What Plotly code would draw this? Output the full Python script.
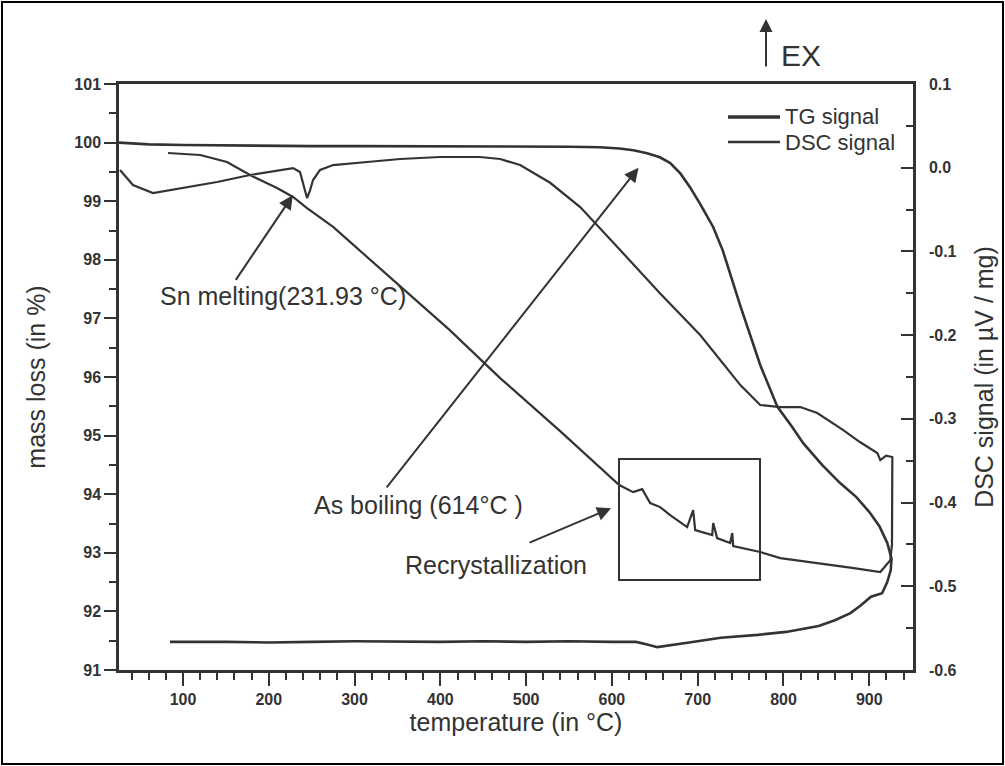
import plotly.graph_objects as go

# ---------------- data ----------------
# TG signal, heating branch (temperature in °C, mass in %)
tg_heat_T = [25.4, 60, 100, 150, 200, 250, 300, 350, 400, 450, 500, 550, 586, 609, 625, 641,
             656, 668, 680, 691, 703, 718, 729, 750, 773, 793, 810, 823, 845, 866, 885, 901,
             912, 921, 926]
tg_heat_m = [100.0, 99.97, 99.96, 99.95, 99.95, 99.94, 99.94, 99.94, 99.93, 99.93, 99.93, 99.93,
             99.92, 99.9, 99.87, 99.82, 99.75, 99.65, 99.47, 99.24, 98.95, 98.56, 98.17, 97.2,
             96.2, 95.49, 95.15, 94.87, 94.5, 94.19, 93.95, 93.68, 93.45, 93.17, 92.9]
# TG signal, cooling branch
tg_cool_T = [925, 921, 915, 902, 890, 878, 860, 841, 820, 803, 770, 727, 690, 665, 653, 640,
             628, 600, 550, 500, 450, 400, 350, 300, 250, 200, 150, 100, 84.8]
tg_cool_m = [92.7, 92.5, 92.31, 92.25, 92.1, 91.97, 91.85, 91.75, 91.69, 91.65, 91.6, 91.55,
             91.47, 91.41, 91.39, 91.44, 91.48, 91.48, 91.49, 91.48, 91.49, 91.48, 91.49, 91.49,
             91.48, 91.47, 91.48, 91.48, 91.48]

# DSC signal, heating branch (µV/mg)
dsc_heat_T = [26.5, 41.7, 65.0, 100, 139.7, 178.1, 228.3, 236.4, 242.3, 244.6, 248.1, 251.6,
              259.8, 275, 314.6, 353.1, 399.7, 446, 469.7, 493, 528, 563, 609.6, 656, 702.9,
              750, 772.9, 796, 819.6, 839.4, 869.7, 889.5, 909.4, 912.9, 916, 919.6, 926.9]
dsc_heat_v = [-0.0027, -0.0207, -0.0302, -0.0243, -0.0171, -0.0087, -0.0004, -0.0051, -0.027,
              -0.0362, -0.027, -0.0147, -0.0027, 0.0032, 0.0068, 0.0104, 0.0128, 0.0128, 0.0104,
              0.0032, -0.018, -0.047, -0.0983, -0.150, -0.1999, -0.26, -0.2835, -0.2859, -0.2859,
              -0.2931, -0.3134, -0.328, -0.3409, -0.3492, -0.347, -0.344, -0.3456]
# DSC signal, cooling branch
dsc_cool_T = [926.9, 926.5, 924.5, 912.9, 880, 850, 820, 796.3, 772.9, 741.4, 740.3, 737.9,
              722.7, 718.1, 716.9, 697.1, 694.7, 687.7, 667.9, 656.2, 644.6, 635.3, 624.8,
              608.5, 540, 469.7, 411, 341.4, 275, 244.6, 228.3, 209.6, 178.1, 151.3, 120.1, 82.5]
dsc_cool_v = [-0.3456, -0.45, -0.469, -0.483, -0.478, -0.474, -0.47, -0.4663, -0.4591, -0.452,
              -0.4364, -0.4484, -0.4424, -0.4245, -0.4388, -0.4329, -0.409, -0.4293, -0.4149,
              -0.4054, -0.4006, -0.3839, -0.3875, -0.3791, -0.315, -0.2513, -0.194, -0.1306,
              -0.0708, -0.0482, -0.035, -0.0243, -0.0087, 0.0068, 0.0152, 0.0176]

x_ticks = [100, 200, 300, 400, 500, 600, 700, 800, 900]
left_ticks = [91, 92, 93, 94, 95, 96, 97, 98, 99, 100, 101]
right_ticks = [-0.6, -0.5, -0.4, -0.3, -0.2, -0.1, 0.0, 0.1]
right_tick_text = ["-0.6", "-0.5", "-0.4", "-0.3", "-0.2", "-0.1", "0.0", "0.1"]

# ---------------- layout helpers ----------------
W, H = 1005, 766
L, R, T, B = 119, 913, 84, 670          # plot area in pixels


def px(x):
    return (x - L) / (R - L)


def py(y):
    return (B - y) / (B - T)


INK = "#333333"
FONT = "Liberation Sans, Arial, sans-serif"

fig = go.Figure()

tg_T = tg_heat_T + tg_cool_T
tg_m = tg_heat_m + tg_cool_m
dsc_T = dsc_heat_T + dsc_cool_T
dsc_v = dsc_heat_v + dsc_cool_v

fig.add_trace(go.Scatter(x=tg_T, y=tg_m, mode="lines", name="TG signal",
                         line=dict(color=INK, width=2.6), yaxis="y", showlegend=False))
fig.add_trace(go.Scatter(x=dsc_T, y=dsc_v, mode="lines", name="DSC signal",
                         line=dict(color=INK, width=2.2), yaxis="y2", showlegend=False))

axis_common = dict(showgrid=False, zeroline=False, linecolor=INK, linewidth=2.5,
                   tickcolor=INK, tickwidth=2, automargin=False,
                   tickfont=dict(family=FONT, size=16, color=INK, weight="bold"))
TITLE_FONT = dict(family=FONT, size=25, color=INK)

fig.update_layout(
    width=W, height=H,
    margin=dict(l=L, r=W - R, t=T, b=H - B, pad=0),
    paper_bgcolor="white", plot_bgcolor="white",
    font=dict(family=FONT, color=INK),
    xaxis=dict(range=[25.4, 951], tickvals=x_ticks, ticks="outside", ticklen=13,
               minor=dict(ticks="outside", ticklen=7, dtick=20, tick0=0, tickcolor=INK, tickwidth=2),
               mirror=True, showline=True,
               title=dict(text="temperature (in °C)", font=TITLE_FONT, standoff=6),
               **axis_common),
    yaxis=dict(range=[91, 101], tickvals=left_ticks, ticks="outside", ticklen=12,
               minor=dict(ticks="outside", ticklen=7, dtick=0.5, tick0=91, tickcolor=INK, tickwidth=2),
               showline=True,
               title=dict(text="mass loss (in %)", font=TITLE_FONT, standoff=22),
               **axis_common),
    yaxis2=dict(range=[-0.6, 0.1], tickvals=right_ticks, ticktext=right_tick_text,
                overlaying="y", side="right", ticks="inside", ticklen=12,
                minor=dict(ticks="inside", ticklen=7, dtick=0.05, tick0=-0.6, tickcolor=INK, tickwidth=2),
                showline=True, ticklabelstandoff=10,
                title=dict(text="DSC signal (in µV / mg)", font=TITLE_FONT, standoff=20),
                **axis_common),
)

# outer frame of the picture
fig.add_shape(type="rect", xref="paper", yref="paper",
              x0=px(2), x1=px(1003), y0=py(764), y1=py(2),
              line=dict(color="black", width=2))

# custom legend
for yy, lw, txt in [(117, 3.3, "TG signal"), (142, 2.3, "DSC signal")]:
    fig.add_shape(type="line", xref="paper", yref="paper",
                  x0=px(728), x1=px(780), y0=py(yy), y1=py(yy),
                  line=dict(color=INK, width=lw))
    fig.add_annotation(xref="paper", yref="paper", x=px(783), y=py(yy), text=txt,
                       showarrow=False, xanchor="left", yanchor="middle",
                       font=dict(family=FONT, size=22, color=INK))

# EX arrow
fig.add_annotation(xref="paper", yref="paper", x=px(766), y=py(19), ax=0, ay=49,
                   text="", showarrow=True, arrowhead=2, arrowsize=1.3, arrowwidth=2,
                   arrowcolor=INK)
fig.add_annotation(xref="paper", yref="paper", x=px(779), y=py(55), text="EX",
                   showarrow=False, xanchor="left", yanchor="middle",
                   font=dict(family=FONT, size=30, color=INK))

# labelled arrows: tip in data coordinates, tail offset in pixels
arrows = [
    (228.0, 99.10, -58, 86),     # Sn melting
    (631.0, 99.57, -253, 321),   # As boiling
    (599.0, 93.76, -83, 35),     # Recrystallization
]
for xa, ya, ax, ay in arrows:
    fig.add_annotation(x=xa, y=ya, xref="x", yref="y", ax=ax, ay=ay, text="",
                       showarrow=True, arrowhead=2, arrowsize=1.4, arrowwidth=2,
                       arrowcolor=INK)

labels = [
    (283, 296, "Sn melting(231.93 °C)"),
    (418, 505, "As boiling (614°C )"),
    (496, 565, "Recrystallization"),
]
for xx, yy, txt in labels:
    fig.add_annotation(xref="paper", yref="paper", x=px(xx), y=py(yy), text=txt,
                       showarrow=False, xanchor="center", yanchor="middle",
                       font=dict(family=FONT, size=25, color=INK))

# box around the recrystallization peaks
fig.add_shape(type="rect", xref="paper", yref="paper",
              x0=px(619), x1=px(760), y0=py(580), y1=py(459),
              line=dict(color=INK, width=2))

fig.write_html("out.html", config={"displayModeBar": False},
               post_script="document.body.style.margin='0px';")
